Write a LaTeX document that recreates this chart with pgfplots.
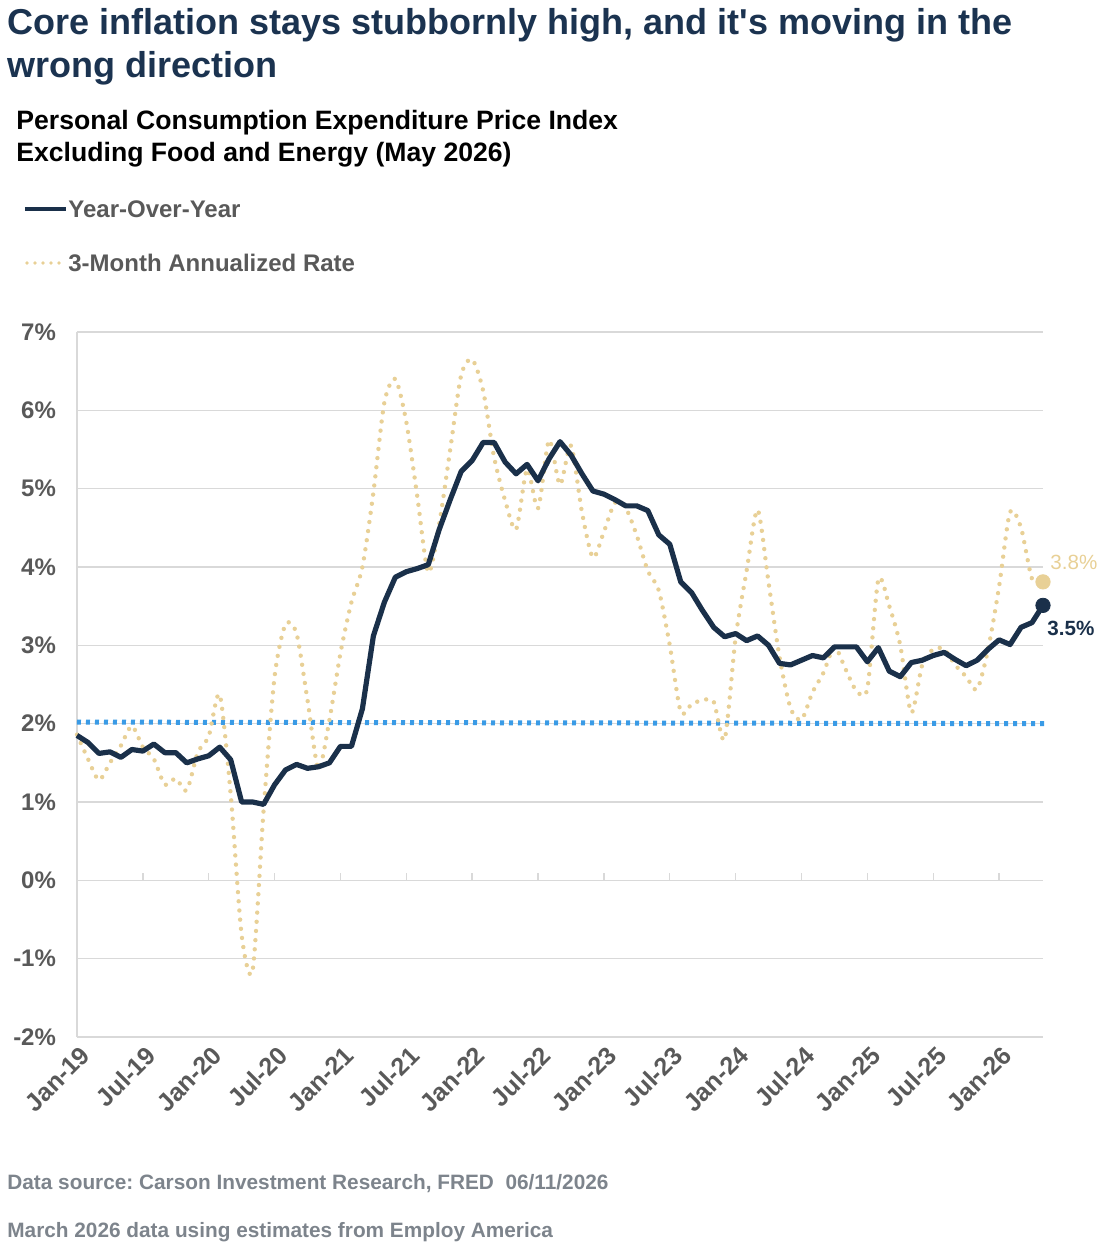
\documentclass[border=0pt]{standalone}
\usepackage{fontspec}
\setmainfont{Liberation Sans}[Ligatures=TeXOff]
\usepackage{pgfplots}
\pgfplotsset{compat=1.18}
\definecolor{navy}{RGB}{26,48,74}
\definecolor{titlenavy}{RGB}{27,51,80}
\definecolor{tan}{RGB}{232,208,150}
\definecolor{refblue}{RGB}{58,155,230}
\definecolor{labgray}{RGB}{89,89,89}
\definecolor{footgray}{RGB}{125,132,140}
\definecolor{gridgray}{RGB}{217,217,217}
\frenchspacing
\begin{document}
\begin{tikzpicture}
\useasboundingbox (-38.5pt,-105.5pt) rectangle (510pt,518.5pt);
\begin{axis}[
  at={(0pt,0pt)}, anchor=south west,
  width=483pt, height=352.5pt, scale only axis,
  xmin=0, xmax=88, ymin=-2, ymax=7,
  clip=false,
  axis lines*=left,
  x axis line style={draw=none},
  y axis line style={draw=gridgray, line width=0.7pt},
  ymajorgrids, grid style={gridgray, line width=0.7pt},
  ytick={-2,-1,0,1,2,3,4,5,6,7},
  yticklabels={{-2\%},{-1\%},{0\%},{1\%},{2\%},{3\%},{4\%},{5\%},{6\%},{7\%}},
  xtick={0,6,12,18,24,30,36,42,48,54,60,66,72,78,84},
  xticklabels={Jan-19,Jul-19,Jan-20,Jul-20,Jan-21,Jul-21,Jan-22,Jul-22,Jan-23,Jul-23,Jan-24,Jul-24,Jan-25,Jul-25,Jan-26},
  major tick length=0pt,
  ticklabel style={font=\bfseries\fontsize{12}{14}\selectfont, text=labgray},
  yticklabel style={xshift=-7pt},
  xticklabel style={rotate=45, anchor=east, font=\bfseries\fontsize{12.5}{14}\selectfont, xshift=1.5pt, yshift=-8pt},
]
\pgfplotsinvokeforeach{6,12,18,24,30,36,42,48,54,60,66,72,78,84}{
  \draw[gridgray, line width=0.7pt] (axis cs:#1,0) -- ([yshift=3.5pt]axis cs:#1,0);
}
% 2% reference
\addplot[refblue, line width=2.5pt, dash pattern=on 2pt off 2.5pt] coordinates {(0,2.02) (88.5,2.0)};
% 3-month annualized
\addplot[tan, line width=2.2pt, line cap=round, dash pattern=on 0pt off 4.6pt, smooth, tension=0.45] table {
x y
0 1.86
1 1.55
2 1.28
3 1.50
4 1.72
5 1.97
6 1.70
7 1.55
8 1.22
9 1.30
10 1.15
11 1.63
12 1.84
13 2.37
14 1.10
15 -0.70
16 -1.15
17 0.90
18 2.60
19 3.27
20 3.15
21 2.30
22 1.42
23 2.05
24 2.90
25 3.55
26 4.00
27 4.95
28 6.10
29 6.40
30 5.85
31 4.90
32 3.93
33 4.55
34 5.50
35 6.45
36 6.65
37 6.25
38 5.40
39 4.85
40 4.48
41 5.25
42 4.75
43 5.62
44 5.05
45 5.55
46 4.70
47 4.12
48 4.45
49 4.82
50 4.75
51 4.40
52 3.95
53 3.70
54 3.00
55 2.15
56 2.25
57 2.30
58 2.28
59 1.80
60 3.10
61 3.95
62 4.73
63 3.80
64 2.85
65 2.20
66 2.05
67 2.40
68 2.65
69 2.98
70 2.70
71 2.42
72 2.45
73 3.84
74 3.50
75 3.00
76 2.14
77 2.75
78 2.95
79 2.95
80 2.75
81 2.60
82 2.44
83 2.95
84 3.75
85 4.70
86 4.50
87 3.85
88 3.81
};
% Year-over-year
\addplot[navy, line width=2.6pt, line join=round] table {
x y
0 1.85
1 1.76
2 1.62
3 1.64
4 1.57
5 1.67
6 1.65
7 1.74
8 1.63
9 1.63
10 1.50
11 1.55
12 1.59
13 1.70
14 1.54
15 1.00
16 1.00
17 0.97
18 1.22
19 1.41
20 1.48
21 1.43
22 1.45
23 1.50
24 1.71
25 1.71
26 2.19
27 3.12
28 3.55
29 3.87
30 3.94
31 3.98
32 4.03
33 4.48
34 4.86
35 5.22
36 5.36
37 5.59
38 5.59
39 5.34
40 5.19
41 5.31
42 5.10
43 5.38
44 5.60
45 5.43
46 5.19
47 4.97
48 4.93
49 4.86
50 4.78
51 4.78
52 4.72
53 4.41
54 4.29
55 3.81
56 3.67
57 3.44
58 3.23
59 3.11
60 3.15
61 3.06
62 3.12
63 3.00
64 2.77
65 2.75
66 2.81
67 2.87
68 2.84
69 2.98
70 2.98
71 2.98
72 2.79
73 2.97
74 2.67
75 2.60
76 2.78
77 2.81
78 2.87
79 2.91
80 2.82
81 2.74
82 2.81
83 2.95
84 3.07
85 3.01
86 3.23
87 3.29
88 3.51
};
% end markers
\addplot[only marks, mark=*, mark size=3.6pt, tan, mark options={fill=tan, draw=tan}] coordinates {(88,3.81)};
\addplot[only marks, mark=*, mark size=3.6pt, navy, mark options={fill=navy, draw=navy}] coordinates {(88,3.51)};
\node[anchor=west, text=tan, font=\fontsize{10.3}{12}\selectfont, inner sep=0pt] at ([shift={(3.5pt,9.5pt)}]axis cs:88,3.81) {3.8\%};
\node[anchor=west, text=navy, font=\bfseries\fontsize{10.3}{12}\selectfont, inner sep=0pt] at ([shift={(2pt,-11.5pt)}]axis cs:88,3.51) {3.5\%};
\end{axis}
% titles
\node[anchor=base west, inner sep=0pt, text=titlenavy, font=\bfseries\fontsize{18}{21.5}\selectfont] at (-35pt,501pt) {Core inflation stays stubbornly high, and it's moving in the};
\node[anchor=base west, inner sep=0pt, text=titlenavy, font=\bfseries\fontsize{18}{21.5}\selectfont] at (-35pt,479.5pt) {wrong direction};
\node[anchor=base west, inner sep=0pt, text=black, font=\bfseries\fontsize{13.3}{16}\selectfont] at (-30.5pt,453.5pt) {Personal Consumption Expenditure Price Index};
\node[anchor=base west, inner sep=0pt, text=black, font=\bfseries\fontsize{13.3}{16}\selectfont] at (-30.5pt,437.5pt) {Excluding Food and Energy (May 2026)};
% legend
\draw[navy, line width=2.2pt] (-26pt,414pt) -- (-5.5pt,414pt);
\node[anchor=base west, inner sep=0pt, text=labgray, font=\bfseries\fontsize{12}{14}\selectfont] at (-4.5pt,409.5pt) {Year-Over-Year};
\draw[tan, line width=1.8pt, line cap=round, dash pattern=on 0pt off 4pt] (-25pt,387pt) -- (-5.5pt,387pt);
\node[anchor=base west, inner sep=0pt, text=labgray, font=\bfseries\fontsize{12}{14}\selectfont] at (-4.5pt,382.5pt) {3-Month Annualized Rate};
% footer
\node[anchor=base west, inner sep=0pt, text=footgray, font=\bfseries\fontsize{10.4}{12}\selectfont] at (-35pt,-76pt) {Data source: Carson Investment Research, FRED\ \ 06/11/2026};
\node[anchor=base west, inner sep=0pt, text=footgray, font=\bfseries\fontsize{10.4}{12}\selectfont] at (-35pt,-100pt) {March 2026 data using estimates from Employ America};
\end{tikzpicture}
\end{document}
